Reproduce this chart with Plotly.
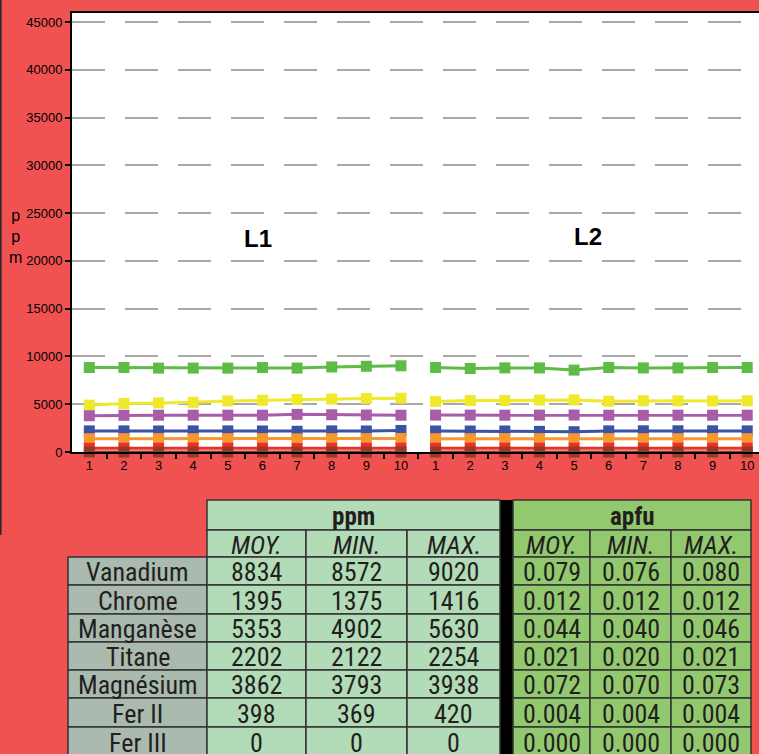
import plotly.graph_objects as go

W, H = 759, 754

# ---------------- data ----------------
x_labels = [str(i) for i in range(1, 11)] + [str(i) for i in range(1, 11)]
groups = ["L1", "L2"]

elements = ["Vanadium", "Chrome", "Manganèse", "Titane", "Magnésium", "Fer II", "Fer III"]

vanadium = [8840, 8840, 8780, 8780, 8780, 8840, 8780, 8900, 8970, 9020,
            8840, 8740, 8800, 8800, 8572, 8840, 8800, 8800, 8840, 8840]
manganese = [4902, 5080, 5140, 5200, 5350, 5420, 5500, 5540, 5600, 5630,
             5290, 5390, 5390, 5440, 5450, 5310, 5360, 5360, 5340, 5360]
magnesium = [3793, 3840, 3850, 3850, 3850, 3850, 3938, 3900, 3870, 3850,
             3860, 3860, 3850, 3860, 3870, 3850, 3840, 3850, 3850, 3850]
titane = [2210, 2210, 2200, 2210, 2210, 2200, 2170, 2210, 2200, 2254,
          2200, 2200, 2200, 2160, 2122, 2210, 2220, 2220, 2220, 2210]
chrome = [1390, 1395, 1400, 1390, 1395, 1400, 1375, 1395, 1400, 1416,
          1390, 1395, 1400, 1395, 1390, 1400, 1395, 1395, 1400, 1395]
fer2 = [398, 400, 395, 420, 398, 395, 369, 400, 398, 405,
        395, 398, 400, 398, 395, 400, 398, 398, 400, 398]
fer3 = [0] * 20

series = {
    "Vanadium": vanadium, "Manganèse": manganese, "Magnésium": magnesium,
    "Titane": titane, "Chrome": chrome, "Fer II": fer2, "Fer III": fer3,
}
colors = {
    "Vanadium": "#5DBB46", "Manganèse": "#EFE82B", "Magnésium": "#A95CA7",
    "Titane": "#3B53A4", "Chrome": "#F7982F", "Fer II": "#EC2F27", "Fer III": "#963A2A",
}
draw_order = ["Vanadium", "Manganèse", "Magnésium", "Titane", "Chrome", "Fer II", "Fer III"]

ppm_moy = [8834, 1395, 5353, 2202, 3862, 398, 0]
ppm_min = [8572, 1375, 4902, 2122, 3793, 369, 0]
ppm_max = [9020, 1416, 5630, 2254, 3938, 420, 0]
apfu_moy = [0.079, 0.012, 0.044, 0.021, 0.072, 0.004, 0.000]
apfu_min = [0.076, 0.012, 0.040, 0.020, 0.070, 0.004, 0.000]
apfu_max = [0.080, 0.012, 0.046, 0.021, 0.073, 0.004, 0.000]
stat_headers = ["MOY.", "MIN.", "MAX."]
unit_headers = ["ppm", "apfu"]

y_ticks = list(range(0, 45001, 5000))

# ---------------- helpers ----------------
def px(x):
    return x / W

def py(y):
    return 1 - y / H

BG = "#F05252"
fig = go.Figure()

n = len(x_labels)
half = n // 2
for name in draw_order:
    vals = series[name]
    xs = list(range(half)) + [None] + list(range(half, n))
    ys = vals[:half] + [None] + vals[half:]
    fig.add_trace(go.Scatter(
        x=xs, y=ys, mode="lines+markers", name=name,
        line=dict(color=colors[name], width=3),
        marker=dict(symbol="square", size=11, color=colors[name]),
        connectgaps=False, cliponaxis=False, showlegend=False,
    ))

tick_font = dict(family="Liberation Sans, Arial", size=13, color="black")

fig.update_layout(
    width=W, height=H,
    margin=dict(l=0, r=0, t=0, b=0),
    paper_bgcolor=BG, plot_bgcolor="white",
    showlegend=False,
    xaxis=dict(
        domain=[px(72), 1], range=[-0.5, 19.34],
        tickmode="array", tickvals=list(range(n)), ticktext=x_labels,
        ticks="", tickfont=tick_font, showgrid=False, zeroline=False,
        showline=True, linecolor="black", linewidth=2, mirror=True,
        minor=dict(tickvals=[i + 0.5 for i in range(n)], ticks="outside",
                   ticklen=5, tickwidth=1.5, tickcolor="black", showgrid=False),
        automargin=False, fixedrange=True,
    ),
    yaxis=dict(
        domain=[py(452), py(13)], range=[0, 45940],
        tickmode="array", tickvals=y_ticks, ticktext=[str(v) for v in y_ticks],
        ticks="outside", ticklen=5, tickwidth=2, tickcolor="black",
        tickfont=tick_font, showgrid=True, gridcolor="#A8A8A8", gridwidth=1.5,
        griddash="33px,20px", zeroline=False,
        showline=True, linecolor="black", linewidth=2,
        automargin=False, fixedrange=True,
    ),
)

annotations = []
shapes = []

# group labels
for g, cx, cy in zip(groups, [258, 588], [238, 236]):
    annotations.append(dict(xref="paper", yref="paper", x=px(cx), y=py(cy),
                            text=f"<b>{g}</b>", showarrow=False,
                            font=dict(family="Liberation Sans, Arial", size=24, color="black"),
                            xanchor="center", yanchor="middle"))
# y title
annotations.append(dict(xref="paper", yref="paper", x=px(15), y=py(237),
                        text="p<br>p<br>m", showarrow=False,
                        font=dict(family="Liberation Sans, Arial", size=16, color="black"),
                        xanchor="center", yanchor="middle"))

# left dark border line
shapes.append(dict(type="line", xref="paper", yref="paper",
                   x0=px(0.8), x1=px(0.8), y0=py(0), y1=py(535),
                   line=dict(color="#2a2a2a", width=1.6)))

# ---------------- table ----------------
LIGHT = "#B2DCB8"
GREEN = "#93C96E"
GREY = "#AABAAF"
LINE = dict(color="#333333", width=1.5)
TFONT = "Roboto Condensed, Liberation Sans Narrow, Liberation Sans, Arial"
TXT = "#231F20"

label_x = (68, 207)
ppm_cols = [207, 306, 407, 500]
apfu_cols = [513, 590, 671, 751]
head_y = (500, 530)
sub_y = (530, 557)
row_y = [557, 585, 614, 642, 670, 698, 727, 756]

def rect(x0, x1, y0, y1, fill, line=LINE):
    shapes.append(dict(type="rect", xref="paper", yref="paper",
                       x0=px(x0), x1=px(x1), y0=py(y1), y1=py(y0),
                       fillcolor=fill, line=line, layer="above"))

def text(cx, cy, t, size=26, bold=False, italic=False):
    s = t
    if bold:
        s = f"<b>{s}</b>"
    if italic:
        s = f"<i>{s}</i>"
    annotations.append(dict(xref="paper", yref="paper", x=px(cx), y=py(cy),
                            text=s, showarrow=False, borderpad=0,
                            font=dict(family=TFONT, size=size, color=TXT),
                            xanchor="center", yanchor="middle"))

# black separator
rect(500, 513, 500, 756, "black", line=dict(color="black", width=0))

for unit, cols, fill in zip(unit_headers, [ppm_cols, apfu_cols], [LIGHT, GREEN]):
    rect(cols[0], cols[-1], head_y[0], head_y[1], fill)
    text((cols[0] + cols[-1]) / 2, (head_y[0] + head_y[1]) / 2 + 1, unit, size=25, bold=True)
    for j, h in enumerate(stat_headers):
        rect(cols[j], cols[j + 1], sub_y[0], sub_y[1], fill)
        text((cols[j] + cols[j + 1]) / 2, (sub_y[0] + sub_y[1]) / 2 + 1, h, size=26, italic=True)

ppm_table = [ppm_moy, ppm_min, ppm_max]
apfu_table = [apfu_moy, apfu_min, apfu_max]
for i, el in enumerate(elements):
    y0, y1 = row_y[i], row_y[i + 1]
    cy = (y0 + y1) / 2 + 1
    rect(label_x[0], label_x[1], y0, y1, GREY)
    text((label_x[0] + label_x[1]) / 2, cy, el)
    for j in range(3):
        rect(ppm_cols[j], ppm_cols[j + 1], y0, y1, LIGHT)
        text((ppm_cols[j] + ppm_cols[j + 1]) / 2, cy, f"{ppm_table[j][i]:d}")
        rect(apfu_cols[j], apfu_cols[j + 1], y0, y1, GREEN)
        text((apfu_cols[j] + apfu_cols[j + 1]) / 2, cy, f"{apfu_table[j][i]:.3f}")

fig.update_layout(annotations=annotations, shapes=shapes)
fig.write_html("out.html", config={"displayModeBar": False},
               post_script="document.body.style.margin='0';")
